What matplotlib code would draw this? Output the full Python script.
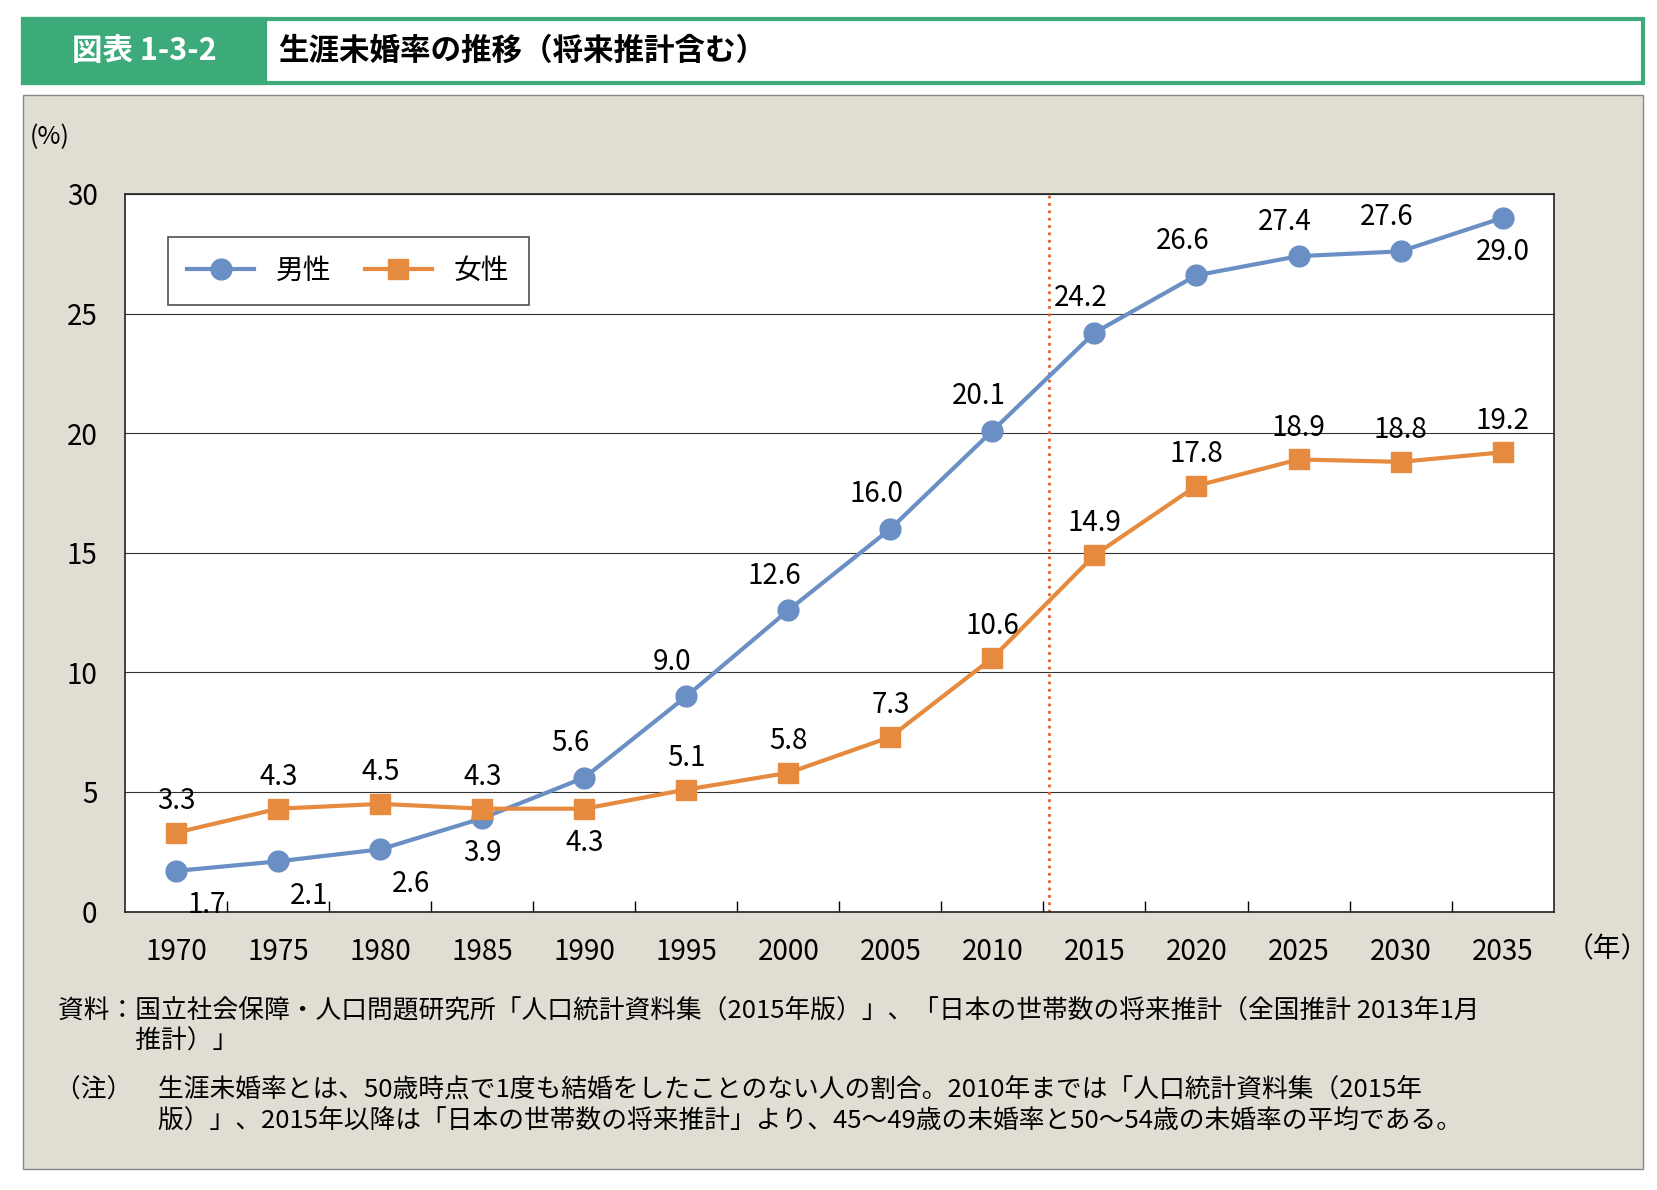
import matplotlib
matplotlib.use('Agg')
import matplotlib.pyplot as plt
from matplotlib.patches import Rectangle
import numpy as np

plt.rcParams['font.family'] = ['Noto Sans CJK JP', 'DejaVu Sans']

years = ['1970', '1975', '1980', '1985', '1990', '1995', '2000', '2005',
         '2010', '2015', '2020', '2025', '2030', '2035']
male = [1.7, 2.1, 2.6, 3.9, 5.6, 9.0, 12.6, 16.0, 20.1, 24.2, 26.6, 27.4, 27.6, 29.0]
female = [3.3, 4.3, 4.5, 4.3, 4.3, 5.1, 5.8, 7.3, 10.6, 14.9, 17.8, 18.9, 18.8, 19.2]
# ラベル位置: 1=上, -1=下
male_pos = [-1, -1, -1, -1, 1, 1, 1, 1, 1, 1, 1, 1, 1, -1]
female_pos = [1, 1, 1, 1, -1, 1, 1, 1, 1, 1, 1, 1, 1, 1]

blue = '#6a8fc4'
orange = '#e58a3f'
green = '#3daa7a'

fig = plt.figure(figsize=(16.58, 11.90), dpi=100)

# タイトルバー
fig.patches.append(Rectangle((0.014, 0.930), 0.977, 0.054, transform=fig.transFigure,
                             facecolor='white', edgecolor=green, lw=3, zorder=-2))
fig.patches.append(Rectangle((0.014, 0.930), 0.146, 0.054, transform=fig.transFigure,
                             facecolor=green, edgecolor=green, lw=3, zorder=-2))
fig.text(0.087, 0.957, '図表 1-3-2', color='white', fontsize=22, fontweight='bold',
         ha='center', va='center')
fig.text(0.168, 0.957, '生涯未婚率の推移（将来推計含む）', fontsize=22, fontweight='bold',
         ha='left', va='center')

# 背景パネル
fig.patches.append(Rectangle((0.014, 0.018), 0.977, 0.902, transform=fig.transFigure,
                             facecolor='#e0ddd2', edgecolor='#888888', lw=1, zorder=-2))

ax = fig.add_axes([0.0756, 0.234, 0.8614, 0.603])
ax.set_zorder(2)
ax.set_facecolor('white')
x = np.arange(len(years))

ax.plot(x, male, color=blue, lw=3, marker='o', ms=15, label='男性', zorder=3)
ax.plot(x, female, color=orange, lw=3, marker='s', ms=14, label='女性', zorder=3)

for i in range(len(x)):
    if male_pos[i] > 0:
        ax.annotate(f'{male[i]:.1f}', (x[i], male[i]), xytext=(-10, 14), textcoords='offset points',
                    ha='center', va='bottom', fontsize=20)
    else:
        dx = 22 if i < 3 else 0
        ax.annotate(f'{male[i]:.1f}', (x[i], male[i]), xytext=(dx, -14), textcoords='offset points',
                    ha='center', va='top', fontsize=20)
    if female_pos[i] > 0:
        ax.annotate(f'{female[i]:.1f}', (x[i], female[i]), xytext=(0, 12), textcoords='offset points',
                    ha='center', va='bottom', fontsize=20)
    else:
        ax.annotate(f'{female[i]:.1f}', (x[i], female[i]), xytext=(0, -14), textcoords='offset points',
                    ha='center', va='top', fontsize=20)

ax.axvline(8.55, color='#e06030', ls=':', lw=2, zorder=1)

ax.set_xlim(-0.5, 13.5)
ax.set_ylim(0, 30)
ax.set_yticks(range(0, 31, 5))
ax.yaxis.grid(True, color='#333333', lw=0.8)
ax.set_axisbelow(True)
ax.set_xticks(x)
ax.set_xticklabels(years)
ax.set_xticks(np.arange(0.5, 13.5, 1), minor=True)
ax.tick_params(axis='x', which='major', length=0, labelsize=20, pad=18)
ax.tick_params(axis='x', which='minor', length=8, direction='in', width=1)
ax.tick_params(axis='y', length=0, labelsize=20, pad=20)
for s in ax.spines.values():
    s.set_color('#222222')
    s.set_linewidth(1.2)

ax.text(-0.053, 1.07, '(%)', transform=ax.transAxes, fontsize=18, ha='center')
ax.text(13.62, -1.6, '（年）', fontsize=20, ha='left', va='center', clip_on=False)

leg = ax.legend(loc='upper left', bbox_to_anchor=(0.02, 0.96), ncol=2, fontsize=20,
                frameon=True, fancybox=False, edgecolor='#222222', handlelength=2.4,
                borderpad=0.7, columnspacing=1.2)
leg.get_frame().set_linewidth(1.2)

notes = ('資料：国立社会保障・人口問題研究所「人口統計資料集（2015年版）」、「日本の世帯数の将来推計（全国推計 2013年1月\n'
         '　　　推計）」')
notes2 = ('（注）　生涯未婚率とは、50歳時点で1度も結婚をしたことのない人の割合。2010年までは「人口統計資料集（2015年\n'
          '　　　　版）」、2015年以降は「日本の世帯数の将来推計」より、45〜49歳の未婚率と50〜54歳の未婚率の平均である。')
fig.text(0.035, 0.162, notes, fontsize=18.5, va='top', linespacing=1.25)
fig.text(0.033, 0.095, notes2, fontsize=18.5, va='top', linespacing=1.25)

fig.savefig('out.png', dpi=100)
